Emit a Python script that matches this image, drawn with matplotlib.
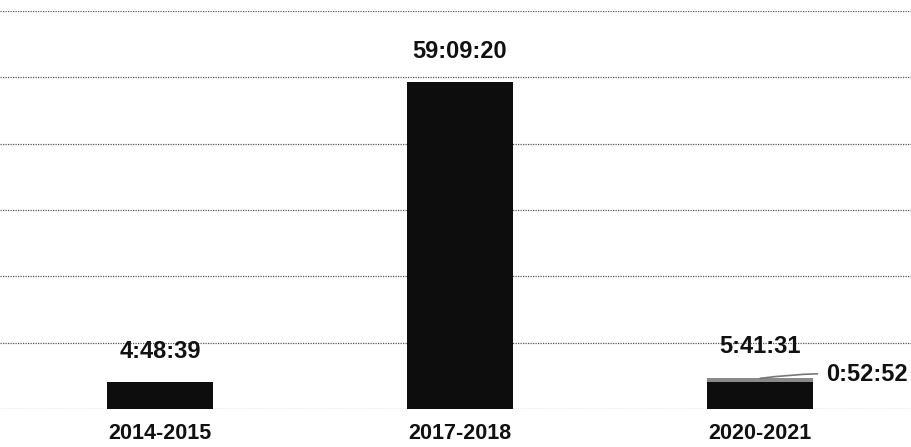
import matplotlib
matplotlib.use("Agg")
import matplotlib.pyplot as plt

categories = ["2014-2015", "2017-2018", "2020-2021"]
# durations in seconds
base_seconds = [17319, 212960, 17319]      # black part
extra_seconds = [0, 0, 3172]               # grey part (0:52:52)

def fmt(s):
    h = s // 3600
    m = (s % 3600) // 60
    sec = s % 60
    return f"{h}:{m:02d}:{sec:02d}"

base_h = [s / 3600 for s in base_seconds]
extra_h = [s / 3600 for s in extra_seconds]
totals = [a + b for a, b in zip(base_seconds, extra_seconds)]

plt.rcParams['font.family'] = ['Liberation Sans', 'DejaVu Sans']

fig = plt.figure(figsize=(9.11, 4.47), dpi=100)
ax = fig.add_axes([0, 0.085, 1, 0.89])

x = list(range(len(categories)))
ax.bar(x, base_h, width=0.353, color="#0d0d0d", zorder=3)
ax.bar(x, extra_h, bottom=base_h, width=0.353, color="#8a8a8a", zorder=3)

ax.set_xlim(-0.533, 2.503)
ax.set_ylim(0, 72)
ax.set_yticks(range(0, 73, 12))
ax.yaxis.grid(True, linestyle=(0, (1, 1)), color="#555555", linewidth=0.9)
ax.set_axisbelow(True)
for sp in ax.spines.values():
    sp.set_visible(False)
ax.tick_params(axis="y", left=False, labelleft=False)
ax.tick_params(axis="x", bottom=False, labelbottom=False)

for i, t in enumerate(totals):
    ax.annotate(fmt(t), (x[i], t / 3600), xytext=(0, 31), textcoords="offset pixels",
                ha="center", va="center", fontsize=17, fontweight="bold", color="#111111")
    ax.annotate(categories[i], (x[i], 0), xytext=(0, -24), textcoords="offset pixels",
                ha="center", va="center", fontsize=15.5, fontweight="bold", color="#111111",
                annotation_clip=False)

# leader label for grey segment
for i, e in enumerate(extra_seconds):
    if e > 0:
        ytop = totals[i] / 3600
        ax.annotate(fmt(e), xy=(x[i], ytop - 0.15), xytext=(x[i] + 0.355, ytop + 0.5),
                    ha="center", va="center", fontsize=17, fontweight="bold", color="#111111",
                    arrowprops=dict(arrowstyle="-", color="#777777", lw=1.2,
                                    shrinkA=4, shrinkB=0,
                                    connectionstyle="arc3,rad=0.05"))

fig.savefig("out.png", dpi=100)
